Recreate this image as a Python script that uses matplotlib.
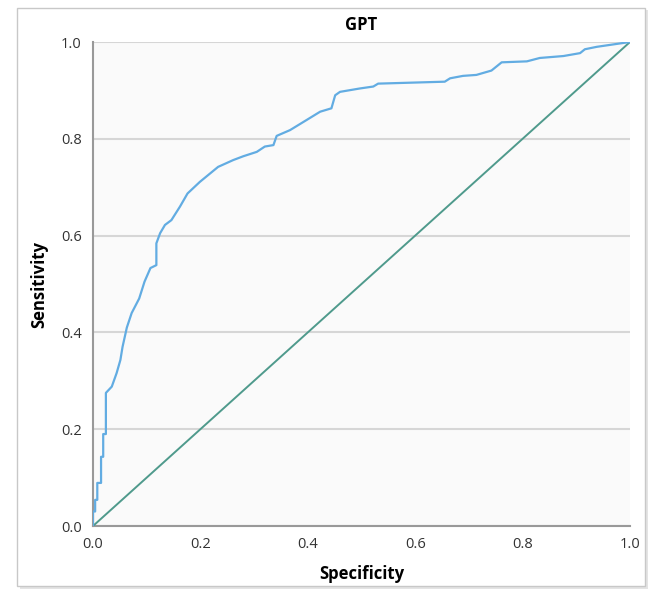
import matplotlib
matplotlib.use('Agg')
from matplotlib import pyplot as plt
from matplotlib.patches import Rectangle

# ROC curve (x = 1 - specificity, y = sensitivity)
fpr = [0.0, 0.0, 0.004, 0.004, 0.008, 0.008, 0.015, 0.015, 0.019, 0.019,
       0.024, 0.024, 0.035, 0.044, 0.051, 0.055, 0.063, 0.072, 0.086,
       0.096, 0.107, 0.118, 0.118, 0.125, 0.134, 0.146, 0.162, 0.176,
       0.199, 0.233, 0.261, 0.280, 0.305, 0.320, 0.336, 0.342, 0.367,
       0.398, 0.423, 0.444, 0.451, 0.460, 0.497, 0.522, 0.531, 0.655,
       0.665, 0.689, 0.714, 0.742, 0.761, 0.808, 0.832, 0.876, 0.907,
       0.916, 0.938, 0.975, 1.0]
tpr = [0.0, 0.030, 0.030, 0.054, 0.054, 0.089, 0.089, 0.143, 0.143, 0.190,
       0.190, 0.275, 0.288, 0.316, 0.343, 0.370, 0.410, 0.440, 0.470,
       0.505, 0.533, 0.539, 0.584, 0.605, 0.622, 0.632, 0.660, 0.687,
       0.711, 0.742, 0.756, 0.764, 0.773, 0.784, 0.787, 0.806, 0.818,
       0.839, 0.856, 0.863, 0.890, 0.897, 0.904, 0.908, 0.914, 0.918,
       0.925, 0.930, 0.932, 0.941, 0.958, 0.960, 0.967, 0.971, 0.977,
       0.985, 0.990, 0.996, 1.0]
ref_line = [0.0, 1.0]
ticks = [0.0, 0.2, 0.4, 0.6, 0.8, 1.0]
tick_labels = ['0.0', '0.2', '0.4', '0.6', '0.8', '1.0']


def plot_roc():
   plt.rcParams['font.family'] = ['Open Sans', 'DejaVu Sans']
   fig = plt.figure(figsize=(6.5, 5.9), dpi=100)

   # picture frame with a soft shadow
   fig.patches.append(Rectangle((20 / 650, 1 - 589 / 590), 628 / 650, 579 / 590,
                                transform=fig.transFigure, facecolor='#e4e4e4',
                                edgecolor='none', zorder=-3))
   fig.patches.append(Rectangle((17 / 650, 1 - 586 / 590), 628 / 650, 578 / 590,
                                transform=fig.transFigure, facecolor='white',
                                edgecolor='#c8c8c8', linewidth=1, zorder=-2))

   ax = fig.add_axes([93 / 650, 1 - 526 / 590, 537 / 650, 484 / 590])
   ax.set_facecolor('#fafafa')
   ax.plot(ref_line, ref_line, color='#4f9a8c', linewidth=1.4, zorder=3)
   ax.plot(fpr, tpr, color='#62ace2', linewidth=1.6, zorder=4)

   ax.set_xlim(0, 1)
   ax.set_ylim(0, 1)
   ax.set_xticks(ticks)
   ax.set_xticklabels(tick_labels)
   ax.set_yticks(ticks)
   ax.set_yticklabels(tick_labels)
   ax.tick_params(length=0, labelsize=10.5, colors='#333333')
   ax.tick_params(axis='x', pad=8)
   ax.tick_params(axis='y', pad=8)
   ax.yaxis.grid(True, color='#d6d6d6', linewidth=1.5)
   ax.set_axisbelow(True)
   for side in ['top', 'right']:
      ax.spines[side].set_visible(False)
   for side in ['left', 'bottom']:
      ax.spines[side].set_color('#999999')
      ax.spines[side].set_linewidth(1.5)

   ax.set_title('GPT', fontsize=12, fontweight='bold', pad=9)
   ax.set_xlabel('Specificity', fontsize=12, fontweight='bold', labelpad=9)
   ax.set_ylabel('Sensitivity', fontsize=12, fontweight='bold', labelpad=9)

   fig.savefig('out.png', dpi=100)


def main():
   plot_roc()


if __name__ == "__main__":
   main()
